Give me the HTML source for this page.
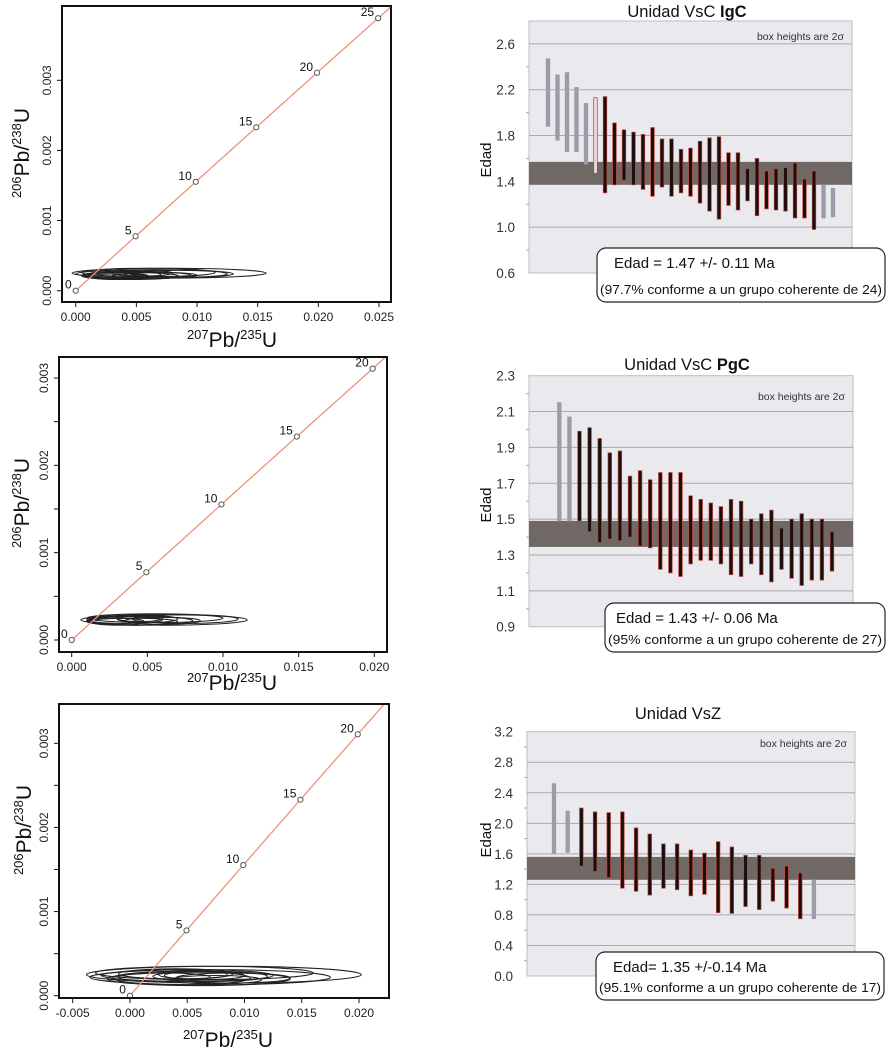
<!DOCTYPE html>
<html><head><meta charset="utf-8">
<style>
html,body{margin:0;padding:0;background:#fff;}
svg{display:block;font-family:"Liberation Sans",Arial,sans-serif;}
</style></head>
<body>
<svg id="fig" width="891" height="1053" viewBox="0 0 891 1053" xmlns="http://www.w3.org/2000/svg"></svg>
<script>
// ---------- Concordia data ----------
const conAges1 = [0,5,10,15,20,25];
const conAges2 = [0,5,10,15,20];
const conAges3 = [0,5,10,15,20];
const conXTicks1 = ["0.000","0.005","0.010","0.015","0.020","0.025"];
const conXTicks2 = ["0.000","0.005","0.010","0.015","0.020"];
const conXTicks3 = ["-0.005","0.000","0.005","0.010","0.015","0.020"];
const conYTicks = ["0.000","0.001","0.002","0.003"];
// ellipses: center x, x-radius, center y, y-radius
const ellCx1 = [0.0077,0.0065,0.006,0.005,0.0045,0.004,0.0035,0.0055,0.007,0.003,0.0045,0.0085];
const ellRx1 = [0.0080,0.0065,0.0055,0.0045,0.004,0.003,0.0025,0.0025,0.003,0.002,0.0015,0.004];
const ellCy1 = [0.00025,0.00024,0.00026,0.00022,0.00021,0.00023,0.00020,0.00025,0.00022,0.00022,0.00021,0.00024];
const ellRy1 = [0.00007,0.00006,0.00006,0.00005,0.00005,0.00005,0.00004,0.00004,0.00004,0.00004,0.00003,0.00005];
const ellCx2 = [0.0061,0.0055,0.0045,0.004,0.0035,0.005,0.003,0.006,0.0045,0.0075];
const ellRx2 = [0.0055,0.0045,0.0035,0.003,0.0025,0.002,0.0018,0.0025,0.0015,0.0035];
const ellCy2 = [0.00023,0.00025,0.00022,0.00021,0.00023,0.00024,0.00021,0.00022,0.00025,0.00024];
const ellRy2 = [0.00006,0.00005,0.00005,0.00004,0.00004,0.00004,0.00004,0.00004,0.00004,0.00005];
const ellCx3 = [0.0082,0.0070,0.0065,0.006,0.005,0.0045,0.004,0.007,0.0075,0.003,0.0055,0.009,0.0065];
const ellRx3 = [0.0120,0.0105,0.0095,0.008,0.0075,0.006,0.005,0.005,0.004,0.004,0.003,0.005,0.0035];
const ellCy3 = [0.00025,0.00022,0.00027,0.00020,0.00024,0.00021,0.00026,0.00023,0.00019,0.00022,0.00025,0.00021,0.00024];
const ellRy3 = [0.00010,0.00009,0.00008,0.00008,0.00007,0.00008,0.00006,0.00006,0.00005,0.00005,0.00005,0.00006,0.00005];

// ---------- Age bar data ----------
const age1Top = [2.47,2.33,2.35,2.22,2.08,2.13,2.14,1.91,1.85,1.83,1.81,1.87,1.77,1.77,1.68,1.69,1.75,1.78,1.79,1.65,1.65,1.51,1.60,1.49,1.51,1.52,1.56,1.42,1.49,1.37,1.34];
const age1Bot = [1.88,1.76,1.66,1.66,1.55,1.47,1.30,1.37,1.41,1.37,1.33,1.27,1.35,1.27,1.30,1.27,1.21,1.14,1.07,1.19,1.15,1.23,1.10,1.16,1.15,1.14,1.08,1.08,0.98,1.08,1.09];
const age1Type = ["g","g","g","g","g","p","b","b","b","b","b","b","b","b","b","b","b","b","b","b","b","b","b","b","b","b","b","b","b","g","g"];
const age1Ticks = [0.6,1.0,1.4,1.8,2.2,2.6];
const age1Mean = [1.37,1.57];
const age2Top = [2.15,2.07,1.99,2.01,1.95,1.87,1.88,1.74,1.77,1.72,1.76,1.76,1.76,1.63,1.61,1.59,1.57,1.61,1.60,1.50,1.53,1.55,1.45,1.50,1.53,1.50,1.50,1.43];
const age2Bot = [1.49,1.49,1.49,1.43,1.37,1.39,1.38,1.40,1.35,1.34,1.22,1.20,1.18,1.25,1.27,1.27,1.25,1.19,1.18,1.25,1.19,1.15,1.22,1.17,1.13,1.16,1.16,1.21];
const age2Type = ["g","g","b","b","b","b","b","b","b","b","b","b","b","b","b","b","b","b","b","b","b","b","b","b","b","b","b","b"];
const age2Ticks = [0.9,1.1,1.3,1.5,1.7,1.9,2.1,2.3];
const age2Mean = [1.345,1.49];
const age3Top = [2.52,2.16,2.20,2.15,2.14,2.15,1.94,1.86,1.73,1.73,1.65,1.61,1.76,1.69,1.58,1.58,1.41,1.44,1.35,1.26];
const age3Bot = [1.60,1.62,1.44,1.37,1.29,1.15,1.11,1.06,1.15,1.13,1.05,1.07,0.83,0.82,0.91,0.87,0.98,0.89,0.75,0.75];
const age3Type = ["g","g","b","b","b","b","b","b","b","b","b","b","b","b","b","b","b","b","b","g"];
const age3Ticks = [0.0,0.4,0.8,1.2,1.6,2.0,2.4,2.8,3.2];
const age3Mean = [1.26,1.56];

const NS = "http://www.w3.org/2000/svg";
const svg = document.getElementById("fig");
function mk(tag, attrs, parent){
  const e = document.createElementNS(NS, tag);
  for (const k in attrs) e.setAttribute(k, attrs[k]);
  (parent||svg).appendChild(e);
  return e;
}
const L238 = 1.55125e-10, L235 = 9.8485e-10;

function concordia(cfg){
  const g = mk("g", {});
  
  
  const sx = v => cfg.x0px + (v - cfg.x0v) * cfg.xs;
  const sy = v => cfg.y0px - v * cfg.ys;
  const clipId = cfg.name + "-clip";
  const cp = mk("clipPath", {id: clipId}, g);
  mk("rect", {x: cfg.bx, y: cfg.by, width: cfg.bw, height: cfg.bh}, cp);
  const pg = mk("g", {"clip-path": "url(#" + clipId + ")"}, g);
  for (let i = 0; i < cfg.ecx.length; i++){
    const el = mk("ellipse", {cx: sx(cfg.ecx[i]), cy: sy(cfg.ecy[i]), rx: cfg.erx[i]*cfg.xs, ry: cfg.ery[i]*cfg.ys, fill: "none", stroke: "#222", "stroke-width": 1.1}, pg);
    
    
  }
  let d = "";
  for (let t = 0; t <= cfg.tmax; t += 0.25){
    const x = Math.exp(L235*t*1e6)-1, y = Math.exp(L238*t*1e6)-1;
    d += (t===0?"M":"L") + sx(x).toFixed(2) + "," + sy(y).toFixed(2);
  }
  const cl = mk("path", {d: d, fill: "none", stroke: "#e8957a", "stroke-width": 1.3}, pg);
  
  
  cfg.ages.forEach(t => {
    const x = Math.exp(L235*t*1e6)-1, y = Math.exp(L238*t*1e6)-1;
    const c = mk("circle", {cx: sx(x), cy: sy(y), r: 2.6, fill: "#fff", stroke: "#555", "stroke-width": 1}, g);
    
    
    const lb = mk("text", {x: sx(x)-4, y: sy(y)-2, "text-anchor": "end", "font-size": 12, fill: "#111"}, g);
    lb.textContent = t;
    
    
  });
  const box = mk("rect", {x: cfg.bx, y: cfg.by, width: cfg.bw, height: cfg.bh, fill: "none", stroke: "#111", "stroke-width": 2}, g);
  
  
  const bb = cfg.by + cfg.bh;
  cfg.xt.forEach(s => {
    const px = sx(parseFloat(s));
    mk("line", {x1: px, y1: bb, x2: px, y2: bb+5, stroke: "#111"}, g);
    const t = mk("text", {x: px, y: bb+19, "text-anchor": "middle", "font-size": 12, fill: "#222"}, g);
    t.textContent = s;
    
    
  });
  for (let v = 0; v <= 0.0031; v += cfg.yminor){
    mk("line", {x1: cfg.bx, y1: sy(v), x2: cfg.bx-5, y2: sy(v), stroke: "#111"}, g);
  }
  conYTicks.forEach(s => {
    const py = sy(parseFloat(s));
    const t = mk("text", {x: cfg.bx-11, y: py, "text-anchor": "middle", "font-size": 12, fill: "#222", transform: "rotate(-90 " + (cfg.bx-11) + " " + py + ")"}, g);
    t.textContent = s;
    
    
  });
  const xt = mk("text", {x: cfg.xtx, y: cfg.xty, "text-anchor": "middle", "font-size": 21, fill: "#111"}, g);
  xt.innerHTML = '<tspan font-size="13" dy="-8">207</tspan><tspan dy="8">Pb/</tspan><tspan font-size="13" dy="-8">235</tspan><tspan dy="8">U</tspan>';
  
  
  const yt = mk("text", {x: cfg.ytx, y: cfg.yty, "text-anchor": "middle", "font-size": 21, fill: "#111", transform: "rotate(-90 " + cfg.ytx + " " + cfg.yty + ")"}, g);
  yt.innerHTML = '<tspan font-size="13" dy="-8">206</tspan><tspan dy="8">Pb/</tspan><tspan font-size="13" dy="-8">238</tspan><tspan dy="8">U</tspan>';
  
  
}

concordia({name:"concordia-plot-igc", bx:62, by:6, bw:329, bh:296, x0px:75.7, x0v:0, xs:12132, y0px:290.7, ys:70133,
  ages:conAges1, tmax:26, xt:conXTicks1, yminor:0.001, ecx:ellCx1, erx:ellRx1, ecy:ellCy1, ery:ellRy1,
  xtx:232, xty:347, ytx:29, yty:153});
concordia({name:"concordia-plot-pgc", bx:59, by:357, bw:328, bh:295, x0px:71.7, x0v:0, xs:15130, y0px:640, ys:87333,
  ages:conAges2, tmax:21, xt:conXTicks2, yminor:0.0005, ecx:ellCx2, erx:ellRx2, ecy:ellCy2, ery:ellRy2,
  xtx:232, xty:690, ytx:29, yty:503});
concordia({name:"concordia-plot-vsz", bx:59, by:704, bw:330, bh:294, x0px:72.7, x0v:-0.005, xs:11452, y0px:995.7, ys:84133,
  ages:conAges3, tmax:26, xt:conXTicks3, yminor:0.0005, ecx:ellCx3, erx:ellRx3, ecy:ellCy3, ery:ellRy3,
  xtx:228, xty:1047, ytx:31, yty:830});

function ageChart(cfg){
  const g = mk("g", {});
  
  
  const sy = v => cfg.y1 - (v - cfg.vmin) / (cfg.vmax - cfg.vmin) * (cfg.y1 - cfg.y0);
  const bg = mk("rect", {x: cfg.x0, y: cfg.y0, width: cfg.x1-cfg.x0, height: cfg.y1-cfg.y0, fill: "#e9e9ee", stroke: "#bdbdc2", "stroke-width": 1}, g);
  
  
  const step = cfg.ticks[1]-cfg.ticks[0];
  for (let i = 0; i < cfg.ticks.length; i++){
    const v = cfg.ticks[i];
    if (v > cfg.vmin + 1e-6 && v < cfg.vmax - 1e-6) mk("line", {x1: cfg.x0, x2: cfg.x1, y1: sy(v), y2: sy(v), stroke: "#a9a9ae", "stroke-width": 1}, g);
    if (i < cfg.ticks.length-1) mk("line", {x1: cfg.x0-3, x2: cfg.x0, y1: sy(v+step/2), y2: sy(v+step/2), stroke: "#aaa"}, g);
    const t = mk("text", {x: cfg.x0-14, y: sy(v)+5, "text-anchor": "end", "font-size": 13.5, fill: "#333"}, g);
    t.textContent = v.toFixed(1);
    
    
  }
  const band = mk("rect", {x: cfg.x0, y: sy(cfg.mean[1]), width: cfg.x1-cfg.x0, height: sy(cfg.mean[0])-sy(cfg.mean[1]), fill: "#6f6865"}, g);
  
  
  for (let i = 0; i < cfg.top.length; i++){
    const cx = cfg.bx0 + i * cfg.bstep;
    const ty = cfg.type[i];
    const fill = ty === "g" ? "#9c9ba8" : (ty === "p" ? "#e8d7d8" : "#1a0d0a");
    const stroke = ty === "g" ? "#9c9ba8" : "#b8433a";
    const b = mk("rect", {x: cx-1.8, y: sy(cfg.top[i]), width: 3.6, height: sy(cfg.bot[i])-sy(cfg.top[i]), fill: fill, stroke: stroke, "stroke-width": 0.7}, g);
    
    
  }
  const title = mk("text", {x: cfg.tx, y: cfg.ty, "text-anchor": "middle", "font-size": 16.5, fill: "#111"}, g);
  title.innerHTML = cfg.title;
  
  
  const note = mk("text", {x: cfg.x1-8, y: cfg.noteY, "text-anchor": "end", "font-size": 10.5, fill: "#333"}, g);
  note.textContent = "box heights are 2σ";
  
  
  const yl = mk("text", {x: 491, y: cfg.ylY, "text-anchor": "middle", "font-size": 15, fill: "#111", transform: "rotate(-90 491 " + cfg.ylY + ")"}, g);
  yl.textContent = "Edad";
  
  
  const box = mk("rect", {x: cfg.box[0], y: cfg.box[1], width: cfg.box[2], height: cfg.box[3], rx: 9, fill: "#fff", stroke: "#222", "stroke-width": 1.2}, g);
  
  
  const l1 = mk("text", {x: cfg.box[0]+cfg.l1dx, y: cfg.box[1]+20, "font-size": 15, fill: "#111"}, g);
  l1.textContent = cfg.line1;
  
  
  const l2 = mk("text", {x: cfg.box[0]+3, y: cfg.box[1]+cfg.box[3]-8, "font-size": 12.5, fill: "#111", textLength: cfg.box[2]-6, lengthAdjust: "spacingAndGlyphs"}, g);
  l2.textContent = cfg.line2;
  
  
}

ageChart({name:"age-chart-igc", x0:529, x1:852, y0:21, y1:273, vmin:0.6, vmax:2.8, ticks:age1Ticks, mean:age1Mean,
  top:age1Top, bot:age1Bot, type:age1Type, bx0:548, bstep:9.5,
  title:'Unidad VsC <tspan font-weight="bold">IgC</tspan>', tx:687, ty:17, noteY:40, ylY:160,
  box:[597,248,288,54], l1dx:17, line1:"Edad = 1.47 +/- 0.11 Ma", line2:"(97.7% conforme a un grupo coherente de 24)"});
ageChart({name:"age-chart-pgc", x0:529, x1:853, y0:375.7, y1:626.7, vmin:0.9, vmax:2.3, ticks:age2Ticks, mean:age2Mean,
  top:age2Top, bot:age2Bot, type:age2Type, bx0:559.3, bstep:10.1,
  title:'Unidad VsC <tspan font-weight="bold">PgC</tspan>', tx:687, ty:370, noteY:400, ylY:505,
  box:[605,603,280,49], l1dx:11, line1:"Edad = 1.43 +/- 0.06 Ma", line2:"(95% conforme a un grupo coherente de 27)"});
ageChart({name:"age-chart-vsz", x0:527, x1:855, y0:731.7, y1:976, vmin:0, vmax:3.2, ticks:age3Ticks, mean:age3Mean,
  top:age3Top, bot:age3Bot, type:age3Type, bx0:554, bstep:13.68,
  title:'Unidad VsZ', tx:678, ty:719, noteY:747, ylY:840,
  box:[596,952,288,48], l1dx:17, line1:"Edad= 1.35 +/-0.14 Ma", line2:"(95.1% conforme a un grupo coherente de 17)"});
</script>
</body></html>
